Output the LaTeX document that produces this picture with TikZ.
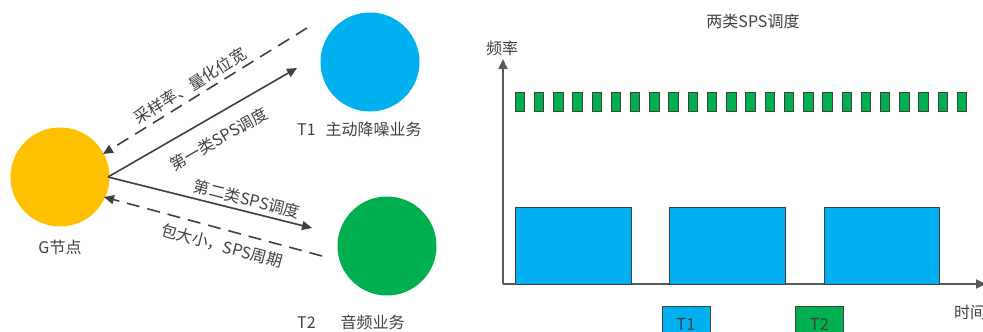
\documentclass[tikz,border=0pt]{standalone}
\usepackage{fontspec}
\setmainfont{Noto Sans CJK SC}
\usetikzlibrary{arrows.meta}
\definecolor{gold}{HTML}{FFC000}
\definecolor{skyb}{HTML}{00B0F0}
\definecolor{grn}{HTML}{00B050}
\definecolor{ink}{HTML}{404040}
\definecolor{axisc}{HTML}{595959}
\tikzset{
  circ/.style={circle,minimum size=99pt,inner sep=0pt},
  lbl/.style={text=ink,font=\fontsize{16}{18}\selectfont,inner sep=0pt},
  lblr/.style={text=ink,font=\fontsize{16}{18}\selectfont,inner sep=0pt},
  sarrow/.style={draw=ink,line width=1.6pt,-{Triangle[length=10pt,width=9pt]}},
  darrow/.style={draw=ink,line width=1.6pt,dash pattern=on 13pt off 8pt,-{Triangle[length=10pt,width=9pt]}},
  axis/.style={draw=axisc,line width=2pt,-{Triangle[length=10pt,width=9pt]}},
  slot/.style={draw=ink,line width=0.8pt,fill=grn},
  blk/.style={draw=ink,line width=0.8pt,fill=skyb},
  legbox/.style={draw=ink,line width=0.8pt,minimum width=48pt,minimum height=36pt,inner sep=0pt,anchor=north,text=ink,font=\fontsize{16.5}{18}\selectfont},
}
\begin{document}
\begin{tikzpicture}[x=1pt,y=-1pt]
\clip (0,0) rectangle (983,332);
\useasboundingbox (0,0) rectangle (983,332);
% left part
\node[circ,fill=gold] (G) at (60,177) {};
\node[circ,fill=skyb] (T1) at (370,62) {};
\node[circ,fill=grn] (T2) at (387,246) {};
\node[lbl] (Gl) at (60,247) {G节点};
\node[lbl,anchor=west] (T1l) at (297,129) {T1\hspace{10pt}主动降噪业务};
\node[lbl,anchor=west] (T2l) at (297,322) {T2\hspace{25pt}音频业务};
\coordinate (s0) at (108,177);
\coordinate (s1) at (297,68);
\coordinate (s2) at (312,228);
\coordinate (d1) at (307,28);
\coordinate (d1e) at (103,154);
\coordinate (d2) at (322,256);
\coordinate (d2e) at (104,197);
\draw[sarrow] (s0) -- (s1);
\draw[sarrow] (s0) -- (s2);
\draw[darrow] (d1) -- (d1e);
\draw[darrow] (d2) -- (d2e);
\node[lbl,rotate=31.7] (la) at (190,86) {采样率、量化位宽};
\node[lbl,rotate=30] (lb) at (219,139) {第一类SPS调度};
\node[lbl,rotate=-14] (lc) at (247,199) {第二类SPS调度};
\node[lbl,rotate=-15] (ld) at (222,246) {包大小，SPS周期};
% right part
\node[lblr] (title) at (753,21) {两类SPS调度};
\coordinate (O) at (503,284);
\coordinate (Ytip) at (503,59);
\coordinate (Xtip) at (986,284);
\draw[axis] (O) -- (Ytip);
\draw[axis] (O) -- (Xtip);
\node[lblr] (yl) at (502,48) {频率};
\node[lblr,anchor=west] (xl) at (954,312) {时间};
\foreach \i in {0,...,23}{
  \draw[slot] ({515+19.23*\i},92) rectangle ++(9.5,19);
}
\draw[blk] (515,207) rectangle (631,284);
\draw[blk] (669,207) rectangle (785,284);
\draw[blk] (824,207) rectangle (939,284);
\node[legbox,fill=skyb] (k1) at (686,306) {T1};
\node[legbox,fill=grn] (k2) at (819.5,306) {T2};
\end{tikzpicture}
\end{document}
